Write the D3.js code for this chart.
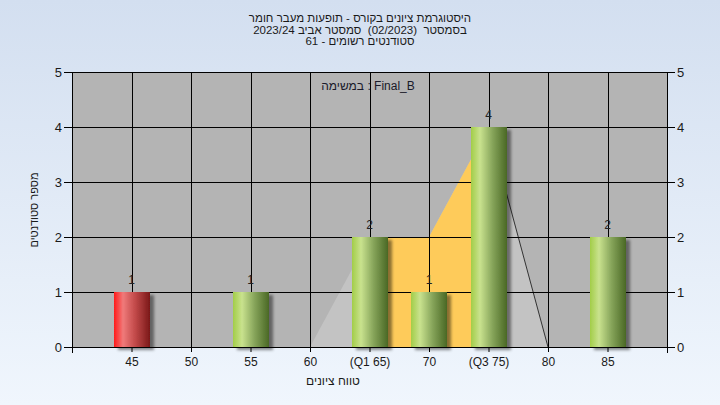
<!DOCTYPE html>
<html><head><meta charset="utf-8">
<script src="https://cdn.jsdelivr.net/npm/d3@7/dist/d3.min.js"></script>
<style>
html,body{margin:0;padding:0;}
svg{display:block;font-family:"Liberation Sans",Arial,sans-serif;}
</style></head>
<body><svg id="c" width="720" height="405"></svg>
<script>
const titleLines = ["היסטוגרמת ציונים בקורס - תופעות מעבר חומר", "בסמסטר  (02/2023)  סמסטר אביב 2023/24", "סטודנטים רשומים - 61"];
const legendText = "במשימה : Final_B";
const xTitle = "טווח ציונים";
const yTitle = "מספר סטודנטים";
const categories = [45, 50, 55, 60, 65, 70, 75, 80, 85];
const tickLabels = ["45", "50", "55", "60", "(Q1 65)", "70", "(Q3 75)", "80", "85"];
const counts = [1, 0, 1, 0, 2, 1, 4, 0, 2];
const failing = [true, false, false, false, false, false, false, false, false];
const yTicks = [0, 1, 2, 3, 4, 5];
const outlineX = [60, 65, 70, 75, 80];
const outlineY = [0, 2, 2, 4, 0];
const iqrX = [65, 65, 70, 75, 75];
const iqrY = [0, 2, 2, 4, 0];

const svg = d3.select("#c");
const L = 72, R = 667, T = 72, B = 347;
const x = d3.scaleLinear().domain([40, 90]).range([L, R]);
const y = d3.scaleLinear().domain([0, 5]).range([B, T]);

const defs = svg.append("defs");
const bgG = defs.append("linearGradient").attr("id","bg").attr("x1",0).attr("y1",0).attr("x2",0).attr("y2",1);
bgG.append("stop").attr("offset","0%").attr("stop-color","#d3dff0");
bgG.append("stop").attr("offset","100%").attr("stop-color","#f0f6fd");
const gg = defs.append("linearGradient").attr("id","green").attr("x1",0).attr("y1",0).attr("x2",1).attr("y2",0);
gg.append("stop").attr("offset","0%").attr("stop-color","#a2cd48");
gg.append("stop").attr("offset","25%").attr("stop-color","#c9e28e");
gg.append("stop").attr("offset","60%").attr("stop-color","#86a45a");
gg.append("stop").attr("offset","100%").attr("stop-color","#4a6824");
const rg = defs.append("linearGradient").attr("id","red").attr("x1",0).attr("y1",0).attr("x2",1).attr("y2",0);
rg.append("stop").attr("offset","0%").attr("stop-color","#ff1a1a");
rg.append("stop").attr("offset","25%").attr("stop-color","#f07a7a");
rg.append("stop").attr("offset","60%").attr("stop-color","#c04848");
rg.append("stop").attr("offset","100%").attr("stop-color","#7a1818");
const f = defs.append("filter").attr("id","sh").attr("x","-20%").attr("y","-20%").attr("width","150%").attr("height","150%");
f.append("feDropShadow").attr("dx",4).attr("dy",3).attr("stdDeviation",1.8).attr("flood-color","#000").attr("flood-opacity",0.45);

svg.append("rect").attr("width",720).attr("height",405).attr("fill","url(#bg)");
svg.append("rect").attr("x",L).attr("y",T).attr("width",R-L).attr("height",B-T).attr("fill","#b4b4b4");

// outline polygons
const line = d3.line().x(d=>x(d[0])).y(d=>y(d[1]));
svg.append("path").attr("d", line(outlineX.map((v,i)=>[v,outlineY[i]]))+"Z").attr("fill","#c3c3c3");
svg.append("path").attr("d", line(iqrX.map((v,i)=>[v,iqrY[i]]))+"Z").attr("fill","#fecb5a");
svg.append("path").attr("d", line([[outlineX[3],outlineY[3]],[outlineX[4],outlineY[4]]])).attr("stroke","#333").attr("stroke-width",1).attr("fill","none");

// grid
const grid = svg.append("g").attr("stroke","#000").attr("stroke-width",1).attr("shape-rendering","crispEdges");
yTicks.filter(v=>v>0).forEach(v=>grid.append("line").attr("x1",L).attr("x2",R).attr("y1",Math.round(y(v))+0.5).attr("y2",Math.round(y(v))+0.5));
categories.forEach(v=>grid.append("line").attr("x1",Math.round(x(v))+0.5).attr("x2",Math.round(x(v))+0.5).attr("y1",T).attr("y2",B));

// bars
const bw = 36;
svg.append("g").selectAll("rect").data(categories.map((c,i)=>({c, v:counts[i], f:failing[i]})).filter(d=>d.v>0))
  .join("rect")
  .attr("x", d=>Math.round(x(d.c)-bw/2)).attr("width", bw)
  .attr("y", d=>y(d.v)).attr("height", d=>B-y(d.v))
  .attr("fill", d=>d.f?"url(#red)":"url(#green)")
  .attr("filter","url(#sh)");

// value labels
svg.append("g").selectAll("text").data(categories.map((c,i)=>({c, v:counts[i]})).filter(d=>d.v>0))
  .join("text").attr("x",d=>x(d.c)).attr("y",d=>y(d.v)-8).attr("text-anchor","middle")
  .attr("font-size",12).attr("fill","#222").text(d=>d.v);

// axes
const axL = svg.append("g").attr("transform",`translate(${L},0)`).call(d3.axisLeft(y).tickValues(yTicks).tickSize(8).tickPadding(2).tickFormat(d3.format("d")));
const axR = svg.append("g").attr("transform",`translate(${R},0)`).call(d3.axisRight(y).tickValues(yTicks).tickSize(8).tickPadding(2).tickFormat(d3.format("d")));
const axB = svg.append("g").attr("transform",`translate(0,${B})`).call(d3.axisBottom(x).tickValues(categories).tickSize(5).tickPadding(5).tickFormat((d,i)=>tickLabels[i]));
[axL,axR,axB].forEach(a=>{
  a.select(".domain").remove();
  a.selectAll("line").attr("stroke","#000");
  a.selectAll("text").attr("font-size",13).attr("fill","#1a1a1a").style("font-family","Liberation Sans, Arial, sans-serif");
});
axB.selectAll("text").attr("font-size",12);
const ax = svg.append("g").attr("stroke","#000").attr("shape-rendering","crispEdges");
ax.append("line").attr("x1",L+0.5).attr("x2",L+0.5).attr("y1",T).attr("y2",B+6);
ax.append("line").attr("x1",R+0.5).attr("x2",R+0.5).attr("y1",T).attr("y2",B+6);
ax.append("line").attr("x1",L).attr("x2",R).attr("y1",B+0.5).attr("y2",B+0.5);
ax.append("line").attr("x1",L).attr("x2",R).attr("y1",T+0.5).attr("y2",T+0.5);

// titles
titleLines.forEach((t,i)=>svg.append("text").attr("x",360).attr("y",22+i*11.5).attr("text-anchor","middle")
  .style("white-space","pre").attr("font-size",11.5).attr("fill","#1a1a1a").text(t));
svg.append("text").attr("x",368).attr("y",90).attr("text-anchor","middle").attr("font-size",12).attr("fill","#1a1a2a").text(legendText);
svg.append("text").attr("x",333).attr("y",385).attr("text-anchor","middle").attr("font-size",12).attr("fill","#1a1a1a").text(xTitle);
svg.append("text").attr("transform","translate(38,210) rotate(-90)").attr("text-anchor","middle").attr("font-size",11).attr("fill","#1a1a1a").text(yTitle);
</script></body></html>
